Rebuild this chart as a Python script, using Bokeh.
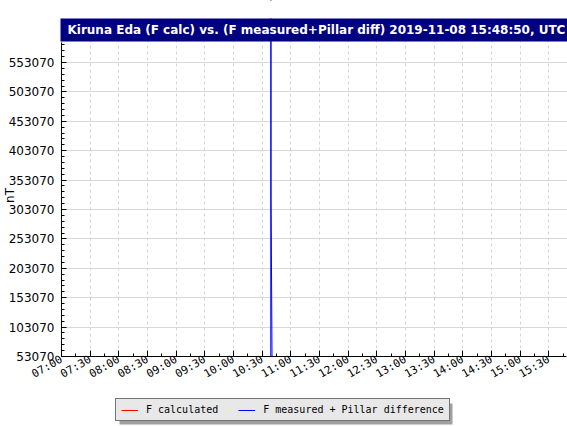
from datetime import datetime, timedelta
from bokeh.plotting import figure
from bokeh.models import (Range1d, FixedTicker, DatetimeTickFormatter, Legend, LegendItem,
                          Label, BoxAnnotation, ColumnDataSource, BasicTickFormatter)
from bokeh.embed import file_html
from bokeh.resources import INLINE
import math

# ---------------- data ----------------
day = "2019-11-08"
title_text = "Kiruna Eda (F calc) vs. (F measured+Pillar diff) 2019-11-08 15:48:50, UTC"
y_axis_title = "nT"
sample_times = ["10:38:00", "10:39:00", "10:39:10", "10:39:20", "10:40:20", "10:41:00"]
f_calculated = [53070, 53070, 53070, 53070, 53070, 53070]
f_measured_pillar = [53070, 53070, 1000000, 321770, 53070, 53070]
x_start, x_end = "07:00:00", "15:48:50"
x_tick_labels = ["07:00", "07:30", "08:00", "08:30", "09:00", "09:30", "10:00", "10:30",
                 "11:00", "11:30", "12:00", "12:30", "13:00", "13:30", "14:00", "14:30",
                 "15:00", "15:30"]
y_tick_labels = [53070, 103070, 153070, 203070, 253070, 303070, 353070, 403070, 453070,
                 503070, 553070]
y_top = 587070
series_names = ["F calculated", "F measured + Pillar difference"]
series_colors = ["#ff0000", "#0000ff"]


def to_dt(hhmm):
    fmt = "%Y-%m-%d %H:%M:%S" if hhmm.count(":") == 2 else "%Y-%m-%d %H:%M"
    return datetime.strptime(day + " " + hhmm, fmt)


def to_ms(dt):
    return (dt - datetime(1970, 1, 1)).total_seconds() * 1000.0


times = [to_dt(t) for t in sample_times]
src = ColumnDataSource(dict(t=times, fc=f_calculated, fm=f_measured_pillar))

# ---------------- layout (pixels) ----------------
W, H = 567, 426
axis_x_px = 61          # y axis line, from canvas left
data_right_px = 566.3   # last time, from canvas left
axis_y_px = 356         # x axis line, from canvas top
px_per_unit = 294.0 / 500000.0
t0, t1 = to_dt(x_start), to_dt(x_end)
span_min = (t1 - t0).total_seconds() / 60.0
px_per_min = (data_right_px - axis_x_px) / span_min
x_lo = t0 - timedelta(minutes=axis_x_px / px_per_min)
x_hi = t1 + timedelta(minutes=(W - data_right_px) / px_per_min)
y_base = y_tick_labels[0]
y_lo = y_base - (H - axis_y_px) / px_per_unit
y_hi = y_base + axis_y_px / px_per_unit

p = figure(width=W, height=H, output_backend="svg", toolbar_location=None,
           x_axis_type="datetime",
           x_range=Range1d(x_lo, x_hi), y_range=Range1d(y_lo, y_hi),
           min_border_left=0, min_border_right=0, min_border_top=0, min_border_bottom=0)
p.outline_line_color = None
p.background_fill_color = "white"
p.border_fill_color = "white"

# grids
p.xgrid.grid_line_color = "#d4d4d4"
p.xgrid.grid_line_dash = "3 3"
p.ygrid.grid_line_color = "#d8d8d8"

# white masks outside the plotting area (hide grid lines there)
p.add_layout(BoxAnnotation(top=y_base, fill_color="white", fill_alpha=1.0,
                           line_color=None, level="underlay"))
p.add_layout(BoxAnnotation(right=t0, fill_color="white", fill_alpha=1.0,
                           line_color=None, level="underlay"))

r_calc = p.line("t", "fc", source=src, line_color=series_colors[0], line_width=1)
r_meas = p.line("t", "fm", source=src, line_color=series_colors[1], line_width=1)

# x axis
major_x = [to_ms(to_dt(t)) for t in x_tick_labels]
minor_x = []
for m in major_x:
    minor_x += [m, m + 15 * 60 * 1000]
p.xaxis.fixed_location = y_base
p.xaxis.bounds = (to_ms(t0), to_ms(t1))
p.xaxis.ticker = FixedTicker(ticks=major_x, minor_ticks=minor_x)
fmt = "%H:%M"
p.xaxis.formatter = DatetimeTickFormatter(seconds=fmt, minsec=fmt, minutes=fmt, hourmin=fmt,
                                          hours=fmt, days=fmt)
p.xaxis.major_label_orientation = math.pi / 6
p.xaxis.major_label_text_font = "DejaVu Sans Mono"
p.xaxis.major_label_text_font_size = "11px"
p.xaxis.major_label_text_color = "black"
p.xaxis.major_label_standoff = 2
p.xaxis.major_tick_in = 6
p.xaxis.major_tick_out = 0
p.xaxis.minor_tick_in = 3
p.xaxis.minor_tick_out = 0
p.xaxis.axis_line_color = "black"
p.xaxis.major_tick_line_color = "black"
p.xaxis.minor_tick_line_color = "black"

# y axis
minor_y = []
for v in y_tick_labels:
    minor_y += [v + k * 10000 for k in range(5)]
p.yaxis.fixed_location = to_ms(t0)
p.yaxis.ticker = FixedTicker(ticks=y_tick_labels, minor_ticks=minor_y)
p.yaxis.formatter = BasicTickFormatter(use_scientific=False)
p.yaxis.bounds = (y_base, y_top)
p.yaxis.major_label_text_font = "DejaVu Sans"
p.yaxis.major_label_text_font_size = "12px"
p.yaxis.major_label_text_color = "black"
p.yaxis.major_label_standoff = 7
p.yaxis.major_tick_in = 5
p.yaxis.major_tick_out = 0
p.yaxis.minor_tick_in = 3
p.yaxis.minor_tick_out = 0
p.yaxis.axis_line_color = "black"
p.yaxis.major_tick_line_color = "black"
p.yaxis.minor_tick_line_color = "black"

# y axis title
p.add_layout(Label(x=2.5, y=H - 195, x_units="screen", y_units="screen", text=y_axis_title,
                   angle=math.pi / 2, text_font="DejaVu Sans", text_font_size="12px",
                   text_color="black", text_baseline="top", text_align="center"))

# white mask above the title bar, then the title bar
p.add_layout(BoxAnnotation(bottom=H - 18, bottom_units="screen",
                           fill_color="white", fill_alpha=1.0, line_color=None,
                           level="overlay"))
p.add_layout(BoxAnnotation(left=60, right=W, top=H - 18, bottom=H - 41,
                           left_units="screen", right_units="screen",
                           top_units="screen", bottom_units="screen",
                           fill_color="#000080", fill_alpha=1.0, line_color=None,
                           level="overlay"))
p.add_layout(Label(x=67, y=H - 29.5, x_units="screen", y_units="screen",
                   text=title_text, level="overlay",
                   text_font="DejaVu Sans", text_font_style="bold", text_font_size="12px",
                   text_color="white", text_baseline="middle", text_align="left"))

# legend drop shadow + legend
p.add_layout(BoxAnnotation(left=119, right=452, bottom=2, top=23,
                           left_units="screen", right_units="screen",
                           top_units="screen", bottom_units="screen",
                           fill_color="#a0a0a0", fill_alpha=1.0, line_color=None))
legend = Legend(items=[LegendItem(label=series_names[0], renderers=[r_calc]),
                       LegendItem(label=series_names[1], renderers=[r_meas])],
                location=(115, 5), orientation="horizontal",
                background_fill_color="#e8e8e8", background_fill_alpha=1.0,
                border_line_color="black", border_line_width=1,
                label_text_font="DejaVu Sans Mono", label_text_font_size="10px",
                label_text_color="black",
                glyph_width=17, glyph_height=10, label_height=10, label_standoff=8,
                spacing=20, padding=5, margin=0)
p.add_layout(legend)

open("out.html", "w").write(file_html(p, INLINE))
